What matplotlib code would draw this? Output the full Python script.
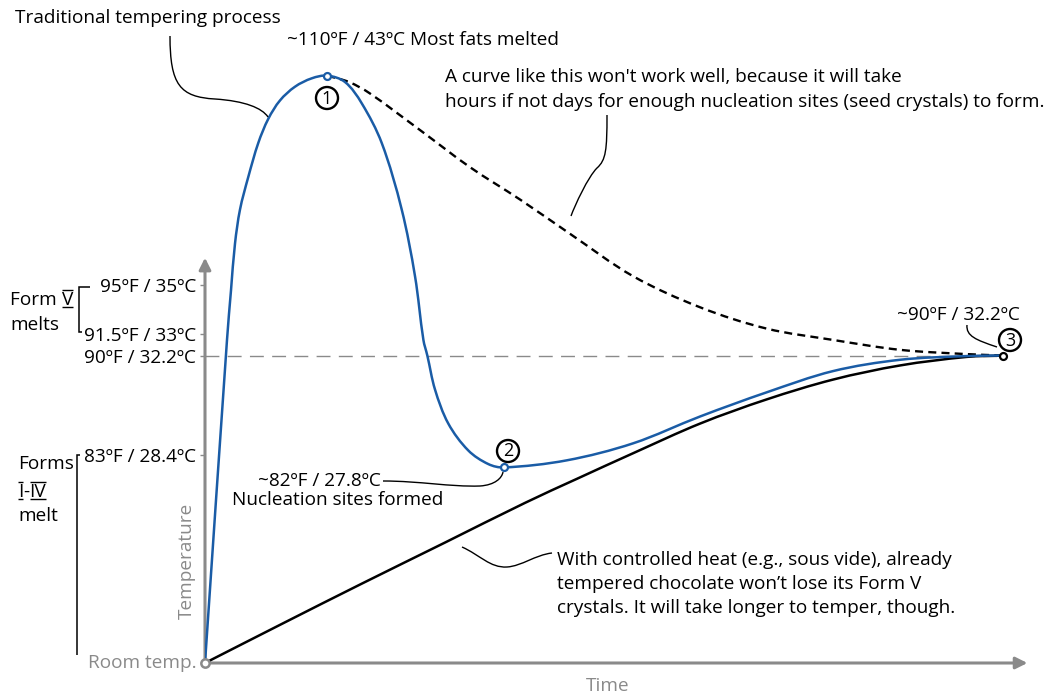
import matplotlib
matplotlib.use("Agg")
import numpy as np
import matplotlib.pyplot as plt
import matplotlib.transforms as mtransforms
from matplotlib.path import Path
from matplotlib.patches import PathPatch, Circle

plt.rcParams['font.family'] = ['Open Sans', 'DejaVu Sans']

# ---------------- data (time units, temperature in °F) ----------------
blue_t = [0, 2.75, 3.25, 3.75, 4.375, 5.41, 6.66, 7.91, 9.375, 11.25, 13.34, 15.29,
          17.5, 19.59, 22.09, 24.59, 26.25, 27.3, 27.79, 28.75, 30.41, 32.91,
          35.41, 37.375, 45.2, 53.5, 61.9, 70.2, 78.5, 86.9, 95.2, 99.7]
blue_T = [68.3, 91.1, 94.6, 97.9, 100.3, 102.6, 105.0, 106.7, 108.0, 108.97, 109.56, 109.75,
          109.3, 107.8, 105.0, 100.3, 95.6, 91.1, 90.0, 87.6, 85.2, 83.3,
          82.34, 82.1, 82.6, 83.8, 85.7, 87.4, 88.9, 89.7, 89.96, 90.0]

dashed_t = [15.29, 18.0, 20.6, 26.9, 33.1, 39.4, 45.6, 53.5, 61.9, 70.2, 78.5, 86.9, 95.2, 99.7]
dashed_T = [109.75, 109.3, 108.5, 105.9, 103.3, 101.0, 98.6, 95.6, 93.4, 91.9, 91.1, 90.4, 90.1, 90.0]

black_t = [0, 9.75, 19.6, 30, 40, 46.5, 53.5, 61.9, 70.2, 78.5, 86.9, 95.2, 99.7]
black_T = [68.3, 71.1, 73.9, 76.8, 79.6, 81.3, 83.1, 85.2, 86.9, 88.3, 89.3, 89.9, 90.0]

tick_vals = [95, 91.5, 90, 83]
tick_labels = ['95ºF / 35ºC', '91.5ºF / 33ºC', '90ºF / 32.2ºC', '83ºF / 28.4ºC']
room_temp = 68.3
target_temp = 90

# ---------------- style ----------------
W, H = 1053, 696
BLUE = '#1a5ca6'
GRAY = '#8a8a8a'
FS = 13.7

fig = plt.figure(figsize=(W / 100, H / 100), dpi=100)
ax = fig.add_axes([205 / W, 33 / H, 848 / W, 663 / H])
ax.set_xlim(0, 106)
ax.set_ylim(room_temp, room_temp + 663 / 14.17)
for s in ax.spines.values():
    s.set_visible(False)
ax.set_xticks([])
ax.set_yticks(tick_vals)
ax.set_yticklabels(tick_labels)
ax.tick_params(axis='y', length=3.5, width=1, color=GRAY, pad=3, labelsize=FS)

# pixel transform (origin top-left) for annotations
PX = mtransforms.Affine2D().scale(1, -1).translate(0, H)
renderer = fig.canvas.get_renderer()


def smooth_path(ts, vs):
    """Smooth Bezier path through the given data points (drawn by matplotlib)."""
    P = ax.transData.transform(np.column_stack([ts, vs]))
    n = len(P)
    tang = []
    for i in range(n):
        if i == 0:
            d = P[1] - P[0]
        elif i == n - 1:
            d = P[-1] - P[-2]
        else:
            d = P[i + 1] - P[i - 1]
        tang.append(d / np.hypot(*d))
    verts = [P[0]]
    codes = [Path.MOVETO]
    for i in range(n - 1):
        seg = np.hypot(*(P[i + 1] - P[i])) / 3.0
        verts += [P[i] + tang[i] * seg, P[i + 1] - tang[i + 1] * seg, P[i + 1]]
        codes += [Path.CURVE4] * 3
    verts = ax.transData.inverted().transform(np.array(verts))
    return Path(verts, codes)


end_t = blue_t[-1]
# 90F dashed reference line
ax.plot([0, end_t], [target_temp, target_temp], color=GRAY, lw=1.0,
        dashes=(10, 6), zorder=1)

# axes with arrows
for xy in [(0, 96.9), (102.8, room_temp)]:
    ax.annotate('', xy=xy, xytext=(0, room_temp),
                arrowprops=dict(arrowstyle='-|>,head_length=0.7,head_width=0.35',
                                color=GRAY, lw=2.2, shrinkA=0, shrinkB=0),
                annotation_clip=False)

# curves
ax.add_patch(PathPatch(smooth_path(dashed_t, dashed_T), fill=False, ec='black',
                       lw=1.7, linestyle=(0, (3.4, 2.2)), zorder=3))
ax.add_patch(PathPatch(smooth_path(black_t, black_T), fill=False, ec='black',
                       lw=1.8, zorder=3, capstyle='round'))
ax.add_patch(PathPatch(smooth_path(blue_t, blue_T), fill=False, ec=BLUE,
                       lw=1.8, zorder=4, joinstyle='round'))

# key points
ipk = blue_T.index(max(blue_T))
imin = blue_T.index(min(blue_T[ipk:]))
ax.plot([blue_t[ipk], blue_t[imin]], [blue_T[ipk], blue_T[imin]], 'o', ms=5,
        mfc='white', mec=BLUE, mew=1.6, zorder=6, clip_on=False)
ax.plot([end_t], [blue_T[-1]], 'o', ms=5, mfc='white', mec='black', mew=1.6,
        zorder=6, clip_on=False)
ax.plot([0], [room_temp], 'o', ms=6, mfc='white', mec=GRAY, mew=1.8,
        zorder=6, clip_on=False)

# circled numbers
for (cx, cy, n) in [(327, 98, '1'), (508, 451, '2'), (1010, 340, '3')]:
    ax.add_patch(Circle((cx, cy), 11, transform=PX, fill=False, ec='black',
                        lw=1.7, clip_on=False, zorder=7))
    ax.text(cx, cy + 0.5, n, transform=PX, ha='center', va='center',
            fontsize=13, zorder=8, clip_on=False)


# texts
def txt(x, y, s, **kw):
    kw.setdefault('fontsize', FS)
    kw.setdefault('va', 'center')
    return ax.text(x, y, s, transform=PX, clip_on=False, **kw)


def seg(verts, codes, lw=1.0, color='black'):
    ax.add_patch(PathPatch(Path(verts, codes), transform=PX, fill=False,
                           ec=color, lw=lw, clip_on=False, zorder=5))


M, C, L = Path.MOVETO, Path.CURVE4, Path.LINETO

txt(15, 18, 'Traditional tempering process')
txt(287, 40, '~110ºF / 43ºC Most fats melted')
txt(445, 77, "A curve like this won't work well, because it will take")
txt(445, 102, 'hours if not days for enough nucleation sites (seed crystals) to form.')
txt(897, 315, '~90ºF / 32.2ºC')
txt(381, 481, '~82ºF / 27.8ºC', ha='right')
txt(232, 500, 'Nucleation sites formed')
txt(557, 560, 'With controlled heat (e.g., sous vide), already')
txt(557, 584, 'tempered chocolate won\u2019t lose its Form V')
txt(557, 608, 'crystals. It will take longer to temper, though.')
txt(10, 325, 'melts')
txt(18, 464, 'Forms')
txt(18, 516, 'melt')
txt(197, 663, 'Room temp.', ha='right', color=GRAY)
txt(187, 561, 'Temperature', ha='center', rotation=90, color=GRAY)
txt(608, 686, 'Time', ha='center', color=GRAY)

# Roman numerals with over/under bars
CAP = FS * 100 / 72 * 0.714


def barred(x, yb, parts):
    """parts: list of (text, barred?) drawn left to right on baseline yb (pixels)."""
    for s, bar in parts:
        t = txt(x, yb, s, va='baseline')
        bb = t.get_window_extent(renderer)
        if bar:
            for yy in (yb + 2, yb - CAP - 1.5):
                seg([(bb.x0, yy), (bb.x1, yy)], [M, L], lw=1.0)
        x = bb.x1


barred(10, 305, [('Form ', False), ('V', True)])
barred(18, 497, [('I', True), ('-', False), ('IV', True)])

# leader lines and brackets (pixel coords)
seg([(170, 36), (170, 85), (180, 97), (215, 99), (245, 101), (262, 108), (268, 117)],
    [M, C, C, C, C, C, C])
seg([(607, 115), (607, 150), (606, 160), (597, 168), (588, 177), (575, 205), (571, 216)],
    [M, C, C, C, C, C, C])
seg([(967, 325), (966, 336), (976, 340), (997, 347)], [M, C, C, C])
seg([(383, 481), (420, 481), (450, 487), (480, 486), (495, 485), (502, 478), (503, 472)],
    [M, C, C, C, C, C, C])
seg([(462, 547), (480, 555), (490, 568), (507, 567), (522, 566), (535, 555), (552, 553)],
    [M, C, C, C, C, C, C])
# brackets
seg([(90, 287), (79, 287), (79, 332), (82, 332)], [M, L, L, L], lw=1.1)
seg([(80, 455), (77, 455), (77, 655)], [M, L, L], lw=1.1)

fig.savefig('out.png', dpi=100)
